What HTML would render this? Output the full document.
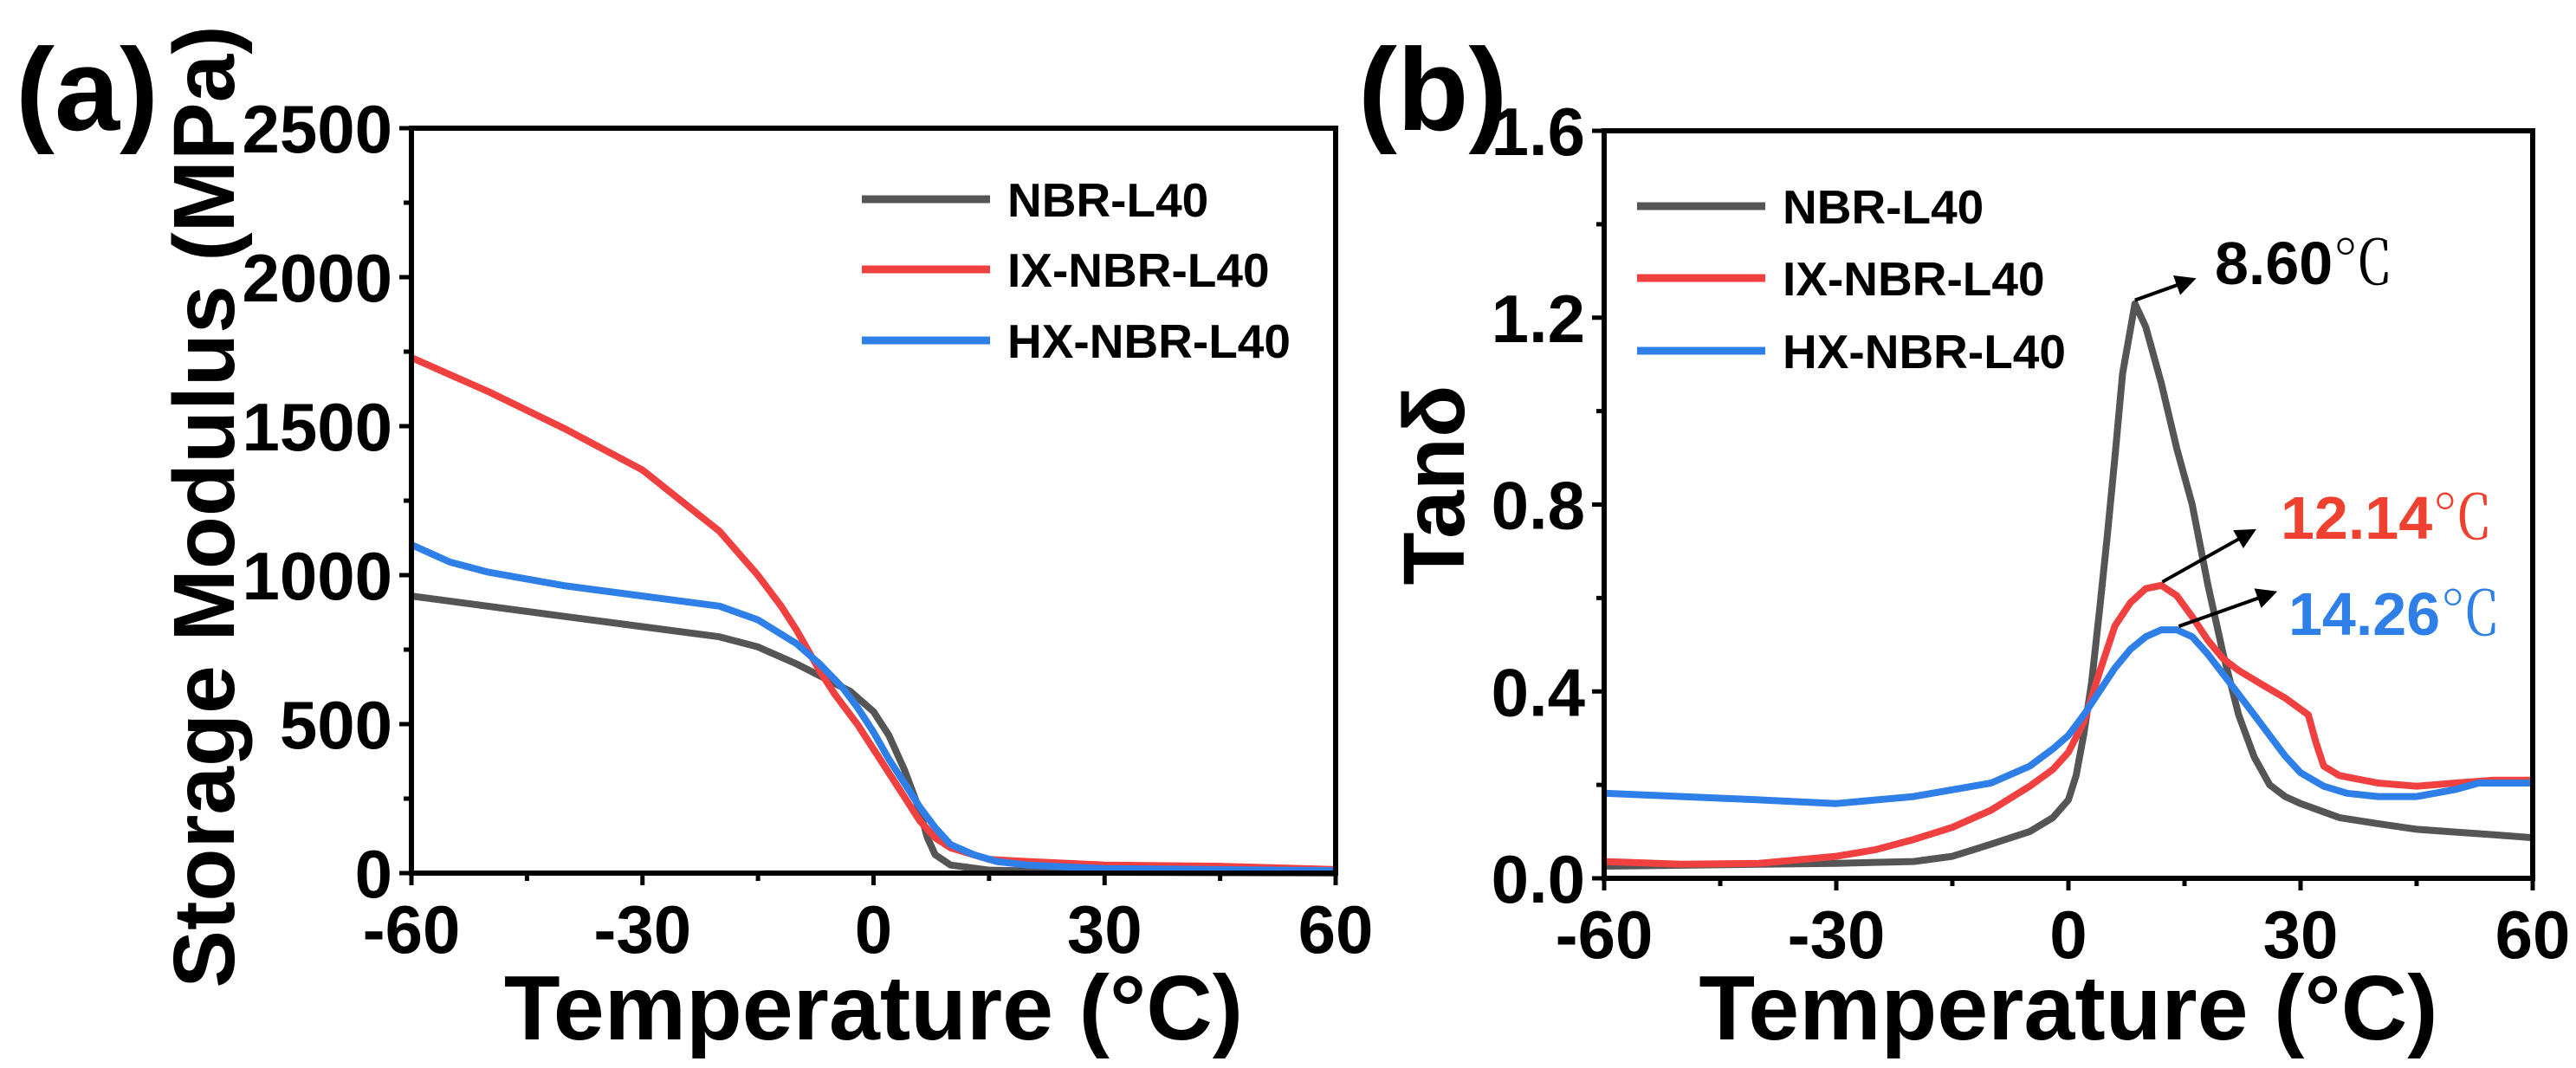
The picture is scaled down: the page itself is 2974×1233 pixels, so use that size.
<!DOCTYPE html>
<html><head><meta charset="utf-8"><style>
html,body{margin:0;padding:0;background:#fff}
svg{display:block}
text{font-family:"Liberation Sans",Arial,sans-serif;font-weight:bold}
</style></head><body>
<svg id="fig" width="2974" height="1233" viewBox="0 0 2974 1233" xmlns="http://www.w3.org/2000/svg"></svg>
<script>
const xTicks=[-60,-30,0,30,60];
const aYTicks=[0,500,1000,1500,2000,2500];
const bYTicks=[0.0,0.4,0.8,1.2,1.6];
const bYLabels=["0.0","0.4","0.8","1.2","1.6"];
const seriesNames=["NBR-L40","IX-NBR-L40","HX-NBR-L40"];
const aNbrT=[-60,-40,-30,-20,-15,-10,-3,0,2,4,6,7,8,10,15,30,60];
const aNbrV=[930,861,827,793,759,702,610,542,462,347,210,119,62,27,10,3,0];
const aIxT=[-60,-50,-40,-30,-25,-20,-15,-12,-10,-7,-5,-2,0,2,4,6,8,10,15,20,30,45,60];
const aIxV=[1730,1616,1490,1353,1250,1147,999,896,816,679,599,496,416,336,256,176,119,85,46,39,27,23,12];
const aHxT=[-60,-55,-50,-40,-30,-20,-15,-10,-7,-4,-2,0,2,4,6,8,10,13,16,20,30,60];
const aHxV=[1102,1044,1010,964,930,896,850,770,702,622,553,473,382,302,222,153,96,62,39,27,15,8];
const bNbrT=[-60,-30,-20,-15,-10,-5,-2,0,1,2,3,4,5,6,7,8.6,10,12,14,16,18,20,22,24,26,28,30,35,40,45,50,55,60];
const bNbrV=[0.026,0.032,0.036,0.047,0.073,0.10,0.13,0.168,0.22,0.31,0.42,0.57,0.73,0.90,1.08,1.23,1.18,1.06,0.92,0.80,0.63,0.48,0.35,0.26,0.20,0.175,0.16,0.13,0.117,0.105,0.099,0.093,0.087];
const bIxT=[-60,-50,-40,-30,-25,-20,-15,-10,-5,-2,0,2,4,6,8,10,12,14,16,18,20,22,25,28,31,32,33,35,40,45,50,55,60];
const bIxV=[0.036,0.03,0.032,0.047,0.061,0.083,0.109,0.146,0.197,0.233,0.27,0.335,0.44,0.54,0.59,0.62,0.627,0.605,0.56,0.51,0.47,0.445,0.415,0.386,0.35,0.29,0.24,0.22,0.204,0.197,0.204,0.21,0.21];
const bHxT=[-60,-50,-40,-30,-20,-10,-5,-2,0,2,4,6,8,10,12,14,16,18,20,22,24,26,28,30,33,36,40,45,50,53,60];
const bHxV=[0.182,0.175,0.168,0.16,0.175,0.204,0.24,0.277,0.306,0.35,0.40,0.45,0.49,0.517,0.532,0.532,0.517,0.48,0.437,0.394,0.35,0.306,0.262,0.226,0.197,0.182,0.175,0.175,0.19,0.204,0.204];
const colors=["#555555","#f04040","#2f7fe8"];

const NS="http://www.w3.org/2000/svg";
const svg=document.getElementById('fig');
function mk(tag,attrs,parent,txt){const e=document.createElementNS(NS,tag);for(const k in attrs)e.setAttribute(k,attrs[k]);if(txt!==undefined)e.textContent=txt;(parent||svg).appendChild(e);return e;}

function panel(cfg){
  const g=mk('g',{});
  
  
  const {L,R,T,B,ymax}=cfg;
  const sx=t=>L+(t+60)/120*(R-L);
  const sy=v=>B-v/ymax*(B-T);
  // series
  cfg.series.forEach((s,i)=>{
    const d=s.t.map((t,j)=>(j?'L':'M')+sx(t).toFixed(1)+' '+sy(s.v[j]).toFixed(1)).join(' ');
    const p=mk('path',{d:d,fill:'none',stroke:colors[i],'stroke-width':8,'stroke-linejoin':'round'},g);
    
    
  });
  // frame
  const fr=mk('rect',{x:L,y:T,width:R-L,height:B-T,fill:'none',stroke:'#000','stroke-width':6},g);
  
  
  // x ticks
  xTicks.forEach((t,i)=>{
    mk('line',{x1:sx(t),x2:sx(t),y1:B,y2:B+14,stroke:'#000','stroke-width':5},g);
    if(i<xTicks.length-1){const m=t+15;mk('line',{x1:sx(m),x2:sx(m),y1:B,y2:B+9,stroke:'#000','stroke-width':5},g);}
    const tx=mk('text',{x:sx(t),y:B+92,'text-anchor':'middle','font-size':78},g,String(t));
    
    
  });
  cfg.yt.forEach((v,i)=>{
    mk('line',{x1:L-14,x2:L,y1:sy(v),y2:sy(v),stroke:'#000','stroke-width':5},g);
    if(i<cfg.yt.length-1){const m=(v+cfg.yt[i+1])/2;mk('line',{x1:L-9,x2:L,y1:sy(m),y2:sy(m),stroke:'#000','stroke-width':5},g);}
    const tx=mk('text',{x:L-22,y:sy(v)+28,'text-anchor':'end','font-size':78},g,cfg.yl[i]);
    
    
  });
  const xt=mk('text',{x:(L+R)/2,y:1200,'text-anchor':'middle','font-size':106},g,'Temperature (°C)');
  
  
  const yt=mk('text',{x:0,y:0,'text-anchor':'middle','font-size':cfg.ytSize,transform:`translate(${cfg.ytX},${cfg.ytY}) rotate(-90)`},g,cfg.ytitle);
  
  
  const pl=mk('text',{x:cfg.plX,y:150,'font-size':135},g,cfg.plabel);
  
  
  // legend
  const lg=mk('g',{},g);
  
  
  seriesNames.forEach((n,i)=>{
    const y=cfg.legY[i];
    mk('line',{x1:cfg.legX,x2:cfg.legX+148,y1:y,y2:y,stroke:colors[i],'stroke-width':9},lg);
    const t=mk('text',{x:cfg.legX+168,y:y+20,'font-size':55},lg,n);
    
    
  });
  return {g,sx,sy};
}

panel({name:'panel-a-storage-modulus',L:475,R:1542,T:148,B:1008,ymax:2500,yt:aYTicks,yl:aYTicks.map(String),
  series:[{t:aNbrT,v:aNbrV},{t:aIxT,v:aIxV},{t:aHxT,v:aHxV}],
  ytitle:'Storage Modulus (MPa)',ytX:270,ytY:585,ytSize:100,plX:18,plabel:'(a)',legX:995,legY:230+0*0+0===0?[230,311,393]:[230,311,393]});
const pb=panel({name:'panel-b-tan-delta',L:1852,R:2924,T:151,B:1014,ymax:1.6,yt:bYTicks,yl:bYLabels,
  series:[{t:bNbrT,v:bNbrV},{t:bIxT,v:bIxV},{t:bHxT,v:bHxV}],
  ytitle:'Tanδ',ytX:1690,ytY:560,ytSize:100,plX:1568,plabel:'(b)',legX:1890,legY:[238,321,405]});

// annotations
const defs=mk('defs',{});
const mkr=mk('marker',{id:'ah',markerWidth:6,markerHeight:6,refX:5,refY:3,orient:'auto',markerUnits:'strokeWidth'},defs);
mk('path',{d:'M0,0 L6,3 L0,6 Z',fill:'#000'},mkr);
const peaks=[{t:8.6,v:1.23,label:'8.60',c:'#000',dx:67,dy:-24,lx:2557,ly:328},
             {t:12.14,v:0.627,label:'12.14',c:'#f04030',dx:105,dy:-59,lx:2633,ly:622},
             {t:14.26,v:0.532,label:'14.26',c:'#2f7fe8',dx:110,dy:-39,lx:2642,ly:733}];
peaks.forEach(p=>{
  const x=pb.sx(p.t),y=pb.sy(p.v)-4;
  const a=mk('line',{x1:x,y1:y,x2:x+p.dx,y2:y+p.dy,stroke:'#000','stroke-width':4,'marker-end':'url(#ah)'});
  
  
  const t=mk('text',{x:p.lx,y:p.ly,'font-size':70,fill:p.c});
  
  
  mk('tspan',{},t,p.label);
  mk('tspan',{'font-weight':'normal','font-family':'"Noto Serif CJK SC",serif'},t,'℃');
});
</script>
</body></html>
